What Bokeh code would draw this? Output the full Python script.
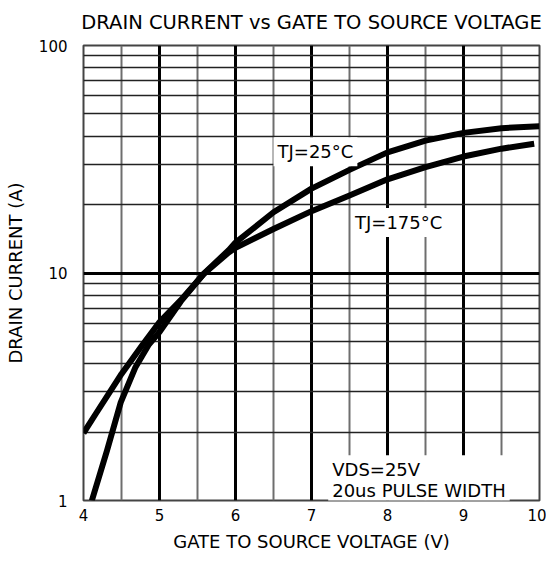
from bokeh.plotting import figure
from bokeh.models import FixedTicker, Label, NumeralTickFormatter
from bokeh.embed import file_html
from bokeh.resources import INLINE

# ---- data ----
vgs_25 = [4.11, 4.31, 4.49, 4.68, 4.86, 5.0, 5.28, 5.58, 5.91, 6.0, 6.5, 7.0, 7.5, 8.0, 8.5, 9.0, 9.5, 10.0]
id_25 = [1.0, 1.66, 2.7, 3.83, 4.85, 5.5, 7.5, 9.9, 12.6, 13.6, 18.5, 23.5, 28.4, 33.9, 38.2, 41.3, 43.3, 44.2]

vgs_175 = [4.0, 4.16, 4.5, 4.77, 5.0, 5.28, 5.58, 5.91, 6.0, 6.5, 7.0, 7.5, 8.0, 8.5, 9.0, 9.5, 9.93]
id_175 = [1.98, 2.4, 3.6, 4.8, 6.08, 7.6, 9.9, 12.3, 12.9, 15.6, 18.7, 21.9, 25.8, 29.2, 32.5, 35.2, 37.0]

x_ticks = [4, 5, 6, 7, 8, 9, 10]
x_minor = [4.5, 5.5, 6.5, 7.5, 8.5, 9.5]
x_grid_major = [5, 6, 7, 8, 9]
y_ticks = [1, 10, 100]
y_grid_major = [10]
y_minor = [2, 3, 4, 5, 6, 7, 8, 9, 20, 30, 40, 50, 60, 70, 80, 90]

title_text = "DRAIN CURRENT vs GATE TO SOURCE VOLTAGE"
x_label = "GATE TO SOURCE VOLTAGE (V)"
y_label = "DRAIN CURRENT (A)"
label_25 = "TJ=25°C"
label_175 = "TJ=175°C"
label_cond = "VDS=25V\n20us PULSE WIDTH"

FONT = "DejaVu Sans"

p = figure(width=546, height=560, x_range=(4, 10), y_range=(1, 100),
           y_axis_type="log", output_backend="svg", toolbar_location=None,
           min_border_left=83, min_border_right=7, min_border_top=45, min_border_bottom=60,
           title=title_text)

p.title.text_font = FONT
p.title.text_font_size = "19.5px"
p.title.text_font_style = "normal"
p.title.text_color = "black"
p.title.align = "center"
p.title.vertical_align = "top"
p.title.standoff = 20

p.background_fill_color = "white"
p.border_fill_color = "white"
p.outline_line_color = "#444444"
p.outline_line_width = 2

# axes
p.xaxis.ticker = FixedTicker(ticks=x_ticks)
p.yaxis.ticker = FixedTicker(ticks=y_ticks)
p.yaxis.formatter = NumeralTickFormatter(format="0")
for ax in (p.xaxis[0], p.yaxis[0]):
    ax.axis_line_color = None
    ax.major_tick_line_color = None
    ax.minor_tick_line_color = None
    ax.major_label_text_font = FONT
    ax.major_label_text_font_size = "15px"
    ax.major_label_text_color = "black"
    ax.axis_label_text_font = FONT
    ax.axis_label_text_font_size = "18px"
    ax.axis_label_text_font_style = "normal"
    ax.axis_label_text_color = "black"
p.xaxis.axis_label = x_label
p.yaxis.axis_label = y_label
p.xaxis.major_label_standoff = 2
p.xaxis.axis_label_standoff = 7
p.yaxis.major_label_standoff = 10
p.yaxis.axis_label_standoff = 10
p.yaxis.major_label_orientation = "horizontal"

# grids
p.xgrid.ticker = FixedTicker(ticks=x_grid_major, minor_ticks=x_minor)
p.xgrid.grid_line_color = "black"
p.xgrid.grid_line_width = 3
p.xgrid.grid_line_alpha = 1
p.xgrid.minor_grid_line_color = "#6e6e6e"
p.xgrid.minor_grid_line_width = 2

p.ygrid.ticker = FixedTicker(ticks=y_grid_major, minor_ticks=y_minor)
p.ygrid.grid_line_color = "black"
p.ygrid.grid_line_width = 3
p.ygrid.grid_line_alpha = 1
p.ygrid.minor_grid_line_color = "#222222"
p.ygrid.minor_grid_line_width = 1.5

# curves
p.line(vgs_25, id_25, line_width=6, line_color="black", line_join="round")
p.line(vgs_175, id_175, line_width=6, line_color="black", line_join="round")

# labels with white boxes
common = dict(text_font=FONT, text_font_size="18px", text_color="black",
              background_fill_color="white", text_align="left", text_baseline="top",
              padding=4)
p.add_layout(Label(x=6.5, y=39.5, text=label_25, **common))
p.add_layout(Label(x=7.52, y=19.3, text=label_175, **common))
p.add_layout(Label(x=7.22, y=1.58, text=label_cond, text_line_height=1.0, **common))

open("out.html", "w").write(file_html(p, INLINE))
